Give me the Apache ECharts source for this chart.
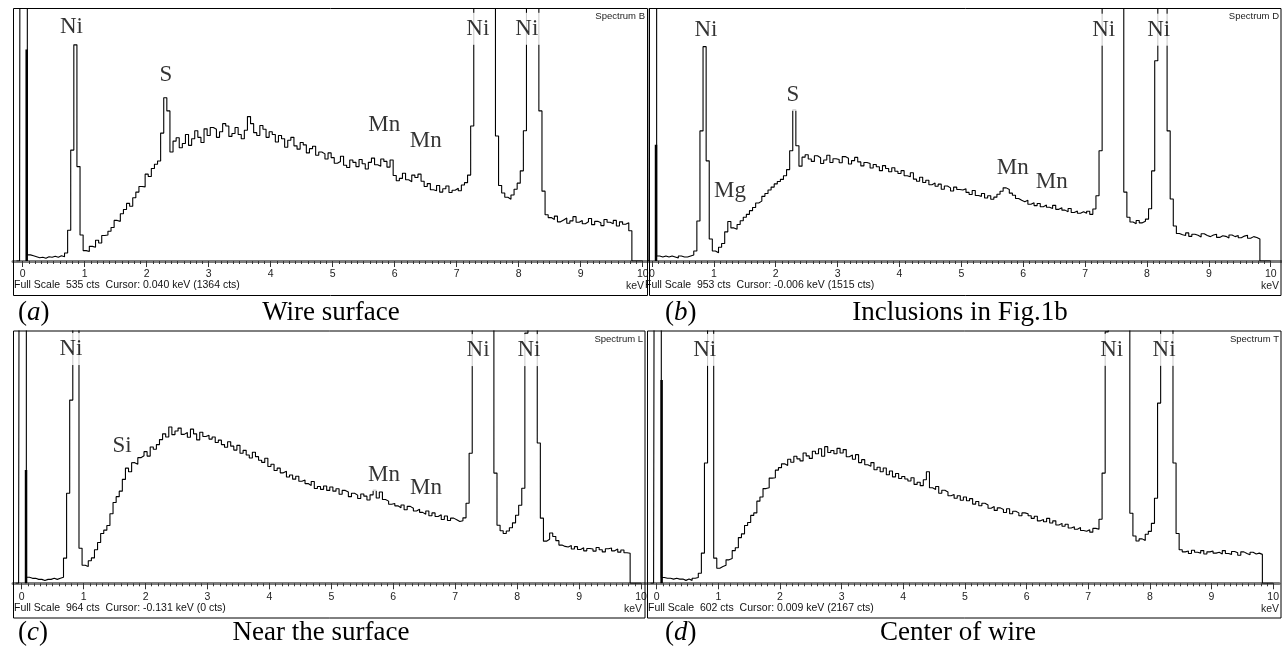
<!DOCTYPE html>
<html><head><meta charset="utf-8">
<script src="https://cdn.jsdelivr.net/npm/echarts@6/dist/echarts.min.js"></script>
<style>html,body{margin:0;padding:0;background:#fff}#c{width:1282px;height:656px}</style>
</head><body><div id="c"></div>
<script>
// ---- channel energies (keV): -0.10 .. 10.00 every 0.05 keV ----
const energyStart = -0.10, energyStep = 0.05;

// ---- (a) Wire surface, counts ----
const countsA = [0, 0,
 3000,1364,13,11,9,7,8,6,9,8,10,8,11,9,17,65,235,458,200,55,
 22,20,31,29,44,38,54,55,63,71,86,84,100,109,122,116,134,146,158,157,
 184,179,196,205,212,271,346,318,231,254,261,240,249,268,245,259,276,262,251,280,
 266,283,279,262,274,291,286,264,270,283,268,259,277,306,291,272,266,287,279,262,
 274,268,252,266,259,241,256,262,244,237,251,246,229,238,243,224,231,227,216,229,
 219,207,211,222,203,198,214,209,200,215,206,195,209,218,204,201,216,211,199,214,
 181,170,175,186,172,168,182,177,184,169,158,164,151,149,160,146,153,159,145,150,
 154,149,161,166,182,286,900,2500,5200,6800,6000,3500,1100,265,160,144,135,131,140,152,
 165,191,276,700,1200,1400,1000,318,148,98,92,88,95,83,87,91,80,85,94,82,
 86,79,83,90,77,84,81,75,88,82,79,86,74,83,78,81,64,0,0,0,
 0];
// ---- (b) Inclusions in Fig.1b ----
const countsB = [0, 0,
 4000,1515,19,15,19,15,19,15,11,19,15,15,19,23,38,151,491,809,378,83,
 38,31,52,66,110,149,125,120,138,152,165,176,190,202,219,226,244,255,268,279,
 291,300,308,322,345,416,571,435,358,392,401,385,376,397,390,368,381,399,372,386,
 383,371,394,388,366,379,391,374,359,372,368,351,364,356,341,360,349,337,352,339,
 330,341,322,318,333,309,301,316,296,305,288,294,282,290,271,283,276,264,279,270,
 268,273,259,251,266,247,244,255,238,246,233,241,252,263,276,270,256,248,236,229,
 224,229,214,220,209,217,205,211,203,198,210,195,201,192,186,198,183,189,180,186,
 180,188,176,196,246,416,1500,5000,9000,11000,9500,5000,1500,260,165,147,141,153,144,150,
 158,197,340,756,2000,2400,1500,491,234,132,104,99,96,106,93,101,97,91,103,96,
 92,98,101,89,95,93,87,98,92,96,88,94,97,86,92,89,83,0,0,0,
 0];
// ---- (c) Near the surface ----
const countsC = [0, 0,
 4000,1500,23,19,19,15,15,11,15,15,19,15,19,23,96,344,700,2500,1100,134,
 69,64,86,97,128,156,190,203,221,266,309,331,352,397,440,426,461,455,480,487,
 503,486,521,512,530,549,571,559,597,568,582,593,569,576,558,589,571,548,577,561,
 566,551,559,538,547,530,520,541,524,509,527,497,508,490,479,501,484,470,462,478,
 446,455,431,440,422,428,406,414,398,409,390,395,381,374,389,362,370,359,372,355,
 368,352,361,340,355,349,331,344,337,324,341,333,318,338,356,326,349,320,314,302,
 305,296,289,299,281,294,287,276,283,271,264,276,258,269,255,262,244,257,240,249,
 243,236,239,250,306,497,1500,4500,8000,9500,8500,4500,1500,421,222,201,190,200,212,231,
 260,298,363,956,1800,2200,1400,536,249,161,168,192,179,163,146,141,139,144,131,140,
 129,136,124,133,131,123,137,128,120,132,135,124,131,119,127,117,115,0,0,0,
 0];
// ---- (d) Center of wire ----
const countsD = [0, 0,
 2167,1200,14,12,12,10,12,10,10,7,10,7,12,14,24,72,287,1500,800,60,
 36,40,43,56,59,78,85,109,118,138,145,162,168,196,206,226,228,251,252,270,
 276,285,281,296,289,303,297,292,311,304,298,315,309,321,303,326,312,317,309,322,
 311,319,302,306,296,307,288,295,283,279,288,271,277,266,275,259,268,254,262,250,
 255,249,244,252,236,241,233,247,266,228,224,231,215,222,218,209,212,203,209,198,
 206,197,202,189,195,185,191,187,179,183,174,180,176,169,178,166,172,168,161,168,
 166,161,155,160,149,152,147,155,144,149,139,143,136,141,132,135,129,133,126,124,
 128,122,131,129,153,263,600,2000,4500,5500,5000,3000,1200,700,167,113,101,106,102,117,
 124,143,203,430,1000,1300,1000,700,287,119,80,75,77,71,79,74,72,78,70,75,
 77,72,74,70,78,71,69,76,73,67,75,71,68,74,70,72,69,0,0,0,
 0];

// full scale (cts) of each spectrum
const fullScale = [535, 953, 964, 602];
// cursor marker [keV, cts]
const cursorA = [0.065, 448], cursorB = [0.065, 439], cursorC = [0.07, 433], cursorD = [0.08, 485];
// peak labels [text, keV, cts]
const labelsA = [['Ni',0.787,496],['S',2.31,394],['Mn',5.83,288],['Mn',6.50,254],['Ni',7.34,492],['Ni',8.13,492]];
const labelsB = [['Ni',0.872,873],['Mg',1.26,265],['S',2.278,627],['Mn',5.83,352],['Mn',6.46,299],['Ni',7.30,873],['Ni',8.19,873]];
const labelsC = [['Ni',0.796,895],['Si',1.62,524],['Mn',5.85,414],['Mn',6.53,364],['Ni',7.37,891],['Ni',8.19,891]];
const labelsD = [['Ni',0.78,557],['Ni',7.38,557],['Ni',8.23,557]];
// texts
const spectrumNames = ['Spectrum B','Spectrum D','Spectrum L','Spectrum T'];
const infoTexts = ['Full Scale  535 cts  Cursor: 0.040 keV (1364 cts)',
                   'Full Scale  953 cts  Cursor: -0.006 keV (1515 cts)',
                   'Full Scale  964 cts  Cursor: -0.131 keV (0 cts)',
                   'Full Scale  602 cts  Cursor: 0.009 keV (2167 cts)'];
const captionLetters = ['a','b','c','d'];
const captionTexts = ['Wire surface','Inclusions in Fig.1b','Near the surface','Center of wire'];
const majorTicks = [0,1,2,3,4,5,6,7,8,9,10];
const minorTicks = [];
for (let t = 0; t <= 100; t++) minorTicks.push(t / 10);

const energy = countsA.map((_, i) => +(energyStart + i * energyStep).toFixed(2));

// ---- layout (pixels) ----
const layout = [
  {grid:{left:13, top:8.5, width:635, height:252.5}, min:-0.156, max:10.085, frame:[13.5,8.5,634,287], infoX:14, nameRight:645, kevRight:644, capY:313, capLX:18, capCX:331},
  {grid:{left:649, top:8.5, width:632, height:252.5}, min:-0.0485, max:10.166, frame:[649.5,8.5,631.5,287], infoX:645, nameRight:1279, kevRight:1279, capY:313, capLX:665, capCX:960},
  {grid:{left:13, top:331, width:632, height:252.3}, min:-0.1405, max:10.065, frame:[13.5,331,631.5,287], infoX:14, nameRight:643, kevRight:642, capY:633, capLX:18, capCX:321},
  {grid:{left:647, top:331, width:634, height:252.3}, min:-0.157, max:10.097, frame:[647.5,331,633.5,287], infoX:648, nameRight:1279, kevRight:1279, capY:633, capLX:665, capCX:958}
];
const countsAll = [countsA, countsB, countsC, countsD];
const cursors = [cursorA, cursorB, cursorC, cursorD];
const labelsAll = [labelsA, labelsB, labelsC, labelsD];

const grids = [], xAxes = [], yAxes = [], series = [], graphics = [];
layout.forEach((L, i) => {
  grids.push(L.grid);
  xAxes.push({gridIndex:i, type:'value', min:L.min, max:L.max, position:'bottom',
    axisLine:{show:true, onZero:false, lineStyle:{color:'#7d7d7d', width:3}},
    axisTick:{show:true, customValues:majorTicks, length:6, lineStyle:{color:'#333', width:1}},
    axisLabel:{show:true, customValues:majorTicks, margin:8, fontSize:10.5, color:'#222', fontFamily:'Liberation Sans'},
    splitLine:{show:false}});
  xAxes.push({gridIndex:i, type:'value', min:L.min, max:L.max, position:'bottom',
    axisLine:{show:false},
    axisTick:{show:true, customValues:minorTicks, length:3, lineStyle:{color:'#333', width:1}},
    axisLabel:{show:false}, splitLine:{show:false}});
  yAxes.push({gridIndex:i, type:'value', min:0, max:fullScale[i], show:false});
  series.push({type:'line', xAxisIndex:2*i, yAxisIndex:i, step:'middle', symbol:'none', clip:true,
    data: energy.map((e, k) => [e, countsAll[i][k]]),
    lineStyle:{color:'#000', width:1.1}, z:2, silent:true});
  const c = cursors[i];
  series.push({type:'line', xAxisIndex:2*i, yAxisIndex:i, symbol:'none', clip:true,
    data:[[c[0], 0], [c[0], c[1]]], lineStyle:{color:'#000', width:2.5}, z:3, silent:true});
  series.push({type:'scatter', xAxisIndex:2*i, yAxisIndex:i, symbolSize:1,
    itemStyle:{color:'rgba(0,0,0,0)'},
    data: labelsAll[i].map(l => [l[1], l[2], l[0]]),
    label:{show:true, position:'inside', formatter:p => p.data[2], fontFamily:'Liberation Serif',
      fontSize:23, color:'#000', backgroundColor:'#fff', padding:[4,2,5,2]},
    z:10, silent:true});
  const f = L.frame;
  graphics.push({type:'rect', shape:{x:f[0], y:f[1], width:f[2], height:f[3]},
    style:{fill:null, stroke:'#000', lineWidth:1}, z:100, silent:true});
  const axisY = L.grid.top + L.grid.height;
  graphics.push({type:'text', x:L.nameRight, y:f[1] + 8, z:100,
    style:{text:spectrumNames[i], fill:'#222', font:'9.5px "Liberation Sans"', textAlign:'right', textVerticalAlign:'middle'}});
  graphics.push({type:'text', x:L.infoX, y:axisY + 24.5, z:100,
    style:{text:infoTexts[i], fill:'#111', font:'10.5px "Liberation Sans"', textAlign:'left', textVerticalAlign:'middle'}});
  graphics.push({type:'text', x:L.kevRight, y:axisY + 25.5, z:100,
    style:{text:'keV', fill:'#222', font:'10.5px "Liberation Sans"', textAlign:'right', textVerticalAlign:'middle'}});
  graphics.push({type:'text', x:L.capLX, y:L.capY, z:100,
    style:{text:'{n|(}{i|' + captionLetters[i] + '}{n|)}', textAlign:'left', textVerticalAlign:'middle',
      rich:{n:{fontFamily:'Liberation Serif', fontSize:27, color:'#000'},
            i:{fontFamily:'Liberation Serif', fontSize:27, fontStyle:'italic', color:'#000'}}}});
  graphics.push({type:'text', x:L.capCX, y:L.capY, z:100,
    style:{text:captionTexts[i], fill:'#000', font:'27px "Liberation Serif"', textAlign:'center', textVerticalAlign:'middle'}});
});

const chart = echarts.init(document.getElementById('c'), null, {renderer:'canvas'});
chart.setOption({
  animation:false, backgroundColor:'#fff',
  grid:grids, xAxis:xAxes, yAxis:yAxes, series:series, graphic:graphics
});
</script></body></html>
